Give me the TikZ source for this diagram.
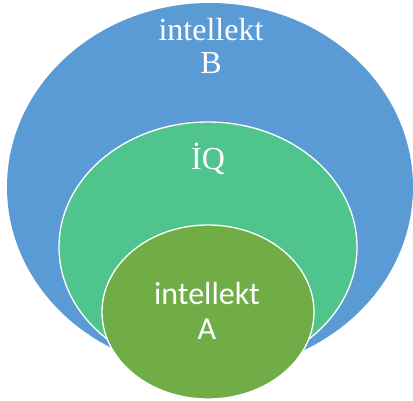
\documentclass[tikz,border=0pt]{standalone}
\usepackage{fontspec}
\usetikzlibrary{shapes.geometric}
\newfontfamily\serifB{Liberation Serif}
\newfontfamily\sansA{Carlito}
\definecolor{setB}{HTML}{5B9BD5}
\definecolor{setIQ}{HTML}{4FC58D}
\definecolor{setA}{HTML}{70AD47}
\tikzset{
  blob/.style={ellipse, inner sep=0pt, draw=white, line width=1.3pt},
  lbl/.style={text=white, align=center, inner sep=0pt}
}
\begin{document}
\begin{tikzpicture}[x=1pt,y=-1pt]
\useasboundingbox (0,0) rectangle (413,401);
\node[blob, draw=none, fill=setB, minimum width=406, minimum height=368] (outer) at (210,187) {};
\node[blob, fill=setIQ, minimum width=298, minimum height=250] (middle) at (208,247) {};
\node[blob, fill=setA, minimum width=212, minimum height=174] (inner) at (208,312) {};
\node[lbl, font=\serifB\fontsize{32}{33}\selectfont] (lblB) at (211,45.6) {intellekt\\B};
\node[lbl, font=\serifB\fontsize{32}{33}\selectfont, anchor=base] (lblIQ) at (208,170) {İQ};
\node[lbl, font=\sansA\fontsize{32}{35}\selectfont] (lblA) at (207,311.3) {intellekt\\A};
\end{tikzpicture}
\end{document}
